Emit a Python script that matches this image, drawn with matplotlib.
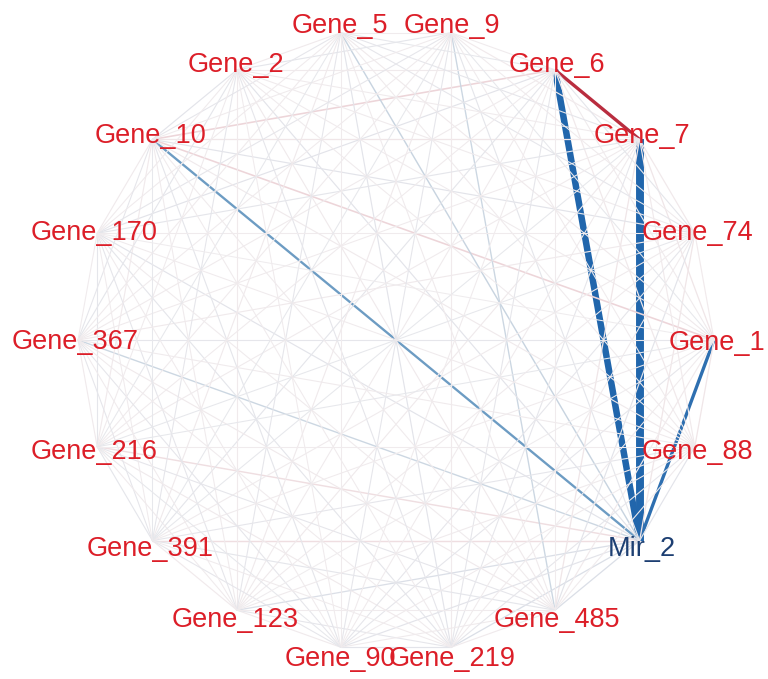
import numpy as np
import matplotlib.pyplot as plt
from matplotlib.colors import LinearSegmentedColormap, Normalize

# nodes in circle order, counter-clockwise starting at the right (0 deg)
nodes = ["Gene_1", "Gene_74", "Gene_7", "Gene_6", "Gene_9", "Gene_5", "Gene_2",
         "Gene_10", "Gene_170", "Gene_367", "Gene_216", "Gene_391", "Gene_123",
         "Gene_90", "Gene_219", "Gene_485", "Mir_2", "Gene_88"]

# upper triangle of the correlation matrix, row i holds pairs (i, i+1..)
corr_rows = [
    [0.08, 0.10, 0.06, -0.05, 0.07, 0.05, 0.16, 0.04, -0.06, -0.05, 0.05, 0.04, -0.06, 0.05, 0.08, -0.42, 0.10],
    [0.09, -0.07, 0.05, -0.06, 0.06, -0.08, 0.05, 0.07, -0.05, 0.06, 0.05, -0.06, 0.05, -0.08, 0.10],
    [0.42, 0.08, -0.06, 0.05, 0.10, -0.07, 0.05, 0.06, -0.05, 0.07, 0.05, -0.06, 0.10, -0.95, 0.08],
    [0.06, -0.05, 0.07, 0.16, -0.08, 0.06, 0.05, -0.07, 0.06, 0.05, -0.06, 0.05, -0.80, 0.09],
    [0.06, -0.07, 0.05, -0.06, 0.05, 0.06, -0.05, 0.07, -0.06, 0.08, -0.12, -0.07, 0.05],
    [0.07, -0.06, 0.05, 0.06, -0.05, 0.07, -0.06, 0.05, -0.08, 0.06, -0.13, 0.06],
    [-0.08, 0.06, -0.07, 0.05, -0.06, 0.07, 0.05, -0.06, 0.07, -0.08, 0.05],
    [0.07, -0.06, 0.08, -0.05, 0.06, -0.07, 0.05, 0.06, -0.28, 0.07],
    [0.06, -0.07, 0.05, -0.06, 0.05, -0.07, 0.06, -0.08, 0.05],
    [0.07, -0.06, 0.05, -0.06, 0.05, 0.07, -0.12, 0.06],
    [-0.07, 0.06, -0.05, 0.07, -0.06, 0.13, 0.05],
    [0.08, -0.06, 0.05, -0.07, 0.13, -0.06],
    [0.07, -0.06, 0.05, -0.10, 0.06],
    [-0.08, 0.06, -0.08, 0.05],
    [0.07, -0.10, -0.06],
    [-0.10, 0.06],
    [-0.08],
]

mirnas = ["Mir_2"]

# layout (pixel space of the 768x679 canvas)
W, H = 768, 679
cx, cy = 396, 340
node_rx, node_ry = 318, 312
label_r = 321

fig = plt.figure(figsize=(W / 100, H / 100), dpi=100)
ax = fig.add_axes([0, 0, 1, 1])
ax.set_xlim(0, W)
ax.set_ylim(H, 0)
ax.axis("off")

theta = np.deg2rad(np.arange(len(nodes)) * 360.0 / len(nodes))
nx = cx + node_rx * np.cos(theta)
ny = cy - node_ry * np.sin(theta)
lx = cx + label_r * np.cos(theta)
ly = cy - label_r * np.sin(theta)

cmap = LinearSegmentedColormap.from_list(
    "edge", [(0.0, "#2166ac"), (0.25, "#86aecb"), (0.4, "#e2e3e9"),
             (0.5, "#eeeef0"), (0.6, "#f1e9eb"), (0.75, "#e9c2c9"),
             (1.0, "#b2182b")])
norm = Normalize(vmin=-0.45, vmax=0.45, clip=True)

edges = []
for i, row in enumerate(corr_rows):
    for k, r in enumerate(row):
        edges.append((i, i + 1 + k, r))

# strongest first, weak edges end up on top (as in the original)
edges.sort(key=lambda e: -abs(e[2]))
for z, (i, j, r) in enumerate(edges):
    lw_px = 0.9 + 7.5 * abs(r) ** 1.3
    ax.plot([nx[i], nx[j]], [ny[i], ny[j]], color=cmap(norm(r)),
            lw=lw_px * 0.72, solid_capstyle="butt", zorder=1 + z * 0.001)

for k, name in enumerate(nodes):
    col = "#1d3f72" if name in mirnas else "#dc1e28"
    ax.text(lx[k], ly[k] + 9.5, name, ha="center", va="baseline",
            fontsize=19.5, color=col, family="Liberation Sans", zorder=5)

fig.savefig("out.png", dpi=100, facecolor="white")
